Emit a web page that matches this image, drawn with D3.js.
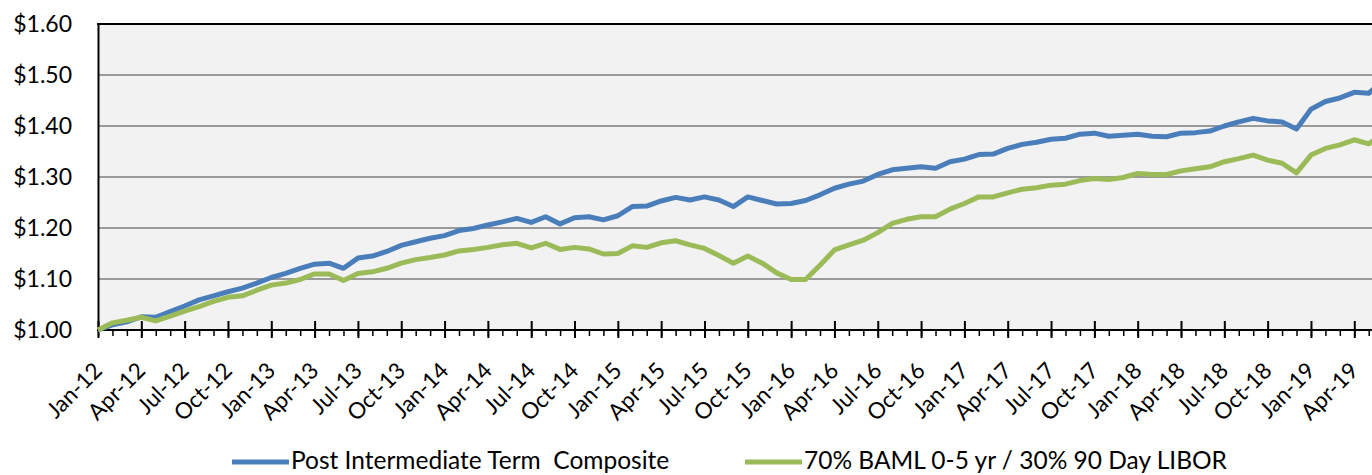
<!DOCTYPE html>
<html>
<head>
<meta charset="utf-8">
<script src="https://cdn.jsdelivr.net/npm/d3@7"></script>
<style>
  html, body { margin: 0; padding: 0; background: #fff; }
  svg { display: block; font-family: Lato, "Open Sans", sans-serif; }
</style>
</head>
<body>
<div id="chart"></div>
<script>
// ─── DATA ──────────────────────────────────────────────────────────────────────
// monthly growth of $1, Jan-12 .. Jun-19
const months = d3.timeMonth.range(new Date(2012, 0, 1), new Date(2019, 6, 1));

const tickLabels = [
  "Jan-12", "Apr-12", "Jul-12", "Oct-12", "Jan-13", "Apr-13", "Jul-13", "Oct-13",
  "Jan-14", "Apr-14", "Jul-14", "Oct-14", "Jan-15", "Apr-15", "Jul-15", "Oct-15",
  "Jan-16", "Apr-16", "Jul-16", "Oct-16", "Jan-17", "Apr-17", "Jul-17", "Oct-17",
  "Jan-18", "Apr-18", "Jul-18", "Oct-18", "Jan-19", "Apr-19"
];

const yTicks = [1.00, 1.10, 1.20, 1.30, 1.40, 1.50, 1.60];

const seriesNames = [
  "Post Intermediate Term  Composite",
  "70% BAML 0-5 yr / 30% 90 Day LIBOR"
];

const compositeValues = [
  1.000, 1.010, 1.016, 1.026, 1.025, 1.036, 1.047, 1.059, 1.067, 1.075, 1.082, 1.092,
  1.103, 1.111, 1.121, 1.129, 1.131, 1.121, 1.141, 1.145, 1.154, 1.166, 1.173, 1.180,
  1.185, 1.195, 1.199, 1.206, 1.212, 1.219, 1.211, 1.222, 1.208, 1.220, 1.222, 1.216,
  1.224, 1.242, 1.243, 1.253, 1.260, 1.255, 1.261, 1.255, 1.242, 1.261, 1.254, 1.247,
  1.248, 1.254, 1.265, 1.278, 1.286, 1.292, 1.305, 1.314, 1.317, 1.320, 1.317, 1.330,
  1.335, 1.344, 1.345, 1.356, 1.364, 1.368, 1.374, 1.376, 1.384, 1.386, 1.380, 1.382,
  1.384, 1.380, 1.379, 1.386, 1.387, 1.390, 1.400, 1.408, 1.415, 1.410, 1.408, 1.394,
  1.433, 1.448, 1.455, 1.466, 1.464, 1.490
];

const benchmarkValues = [
  1.000, 1.014, 1.019, 1.025, 1.018, 1.027, 1.037, 1.046, 1.056, 1.064, 1.067, 1.078,
  1.088, 1.092, 1.099, 1.110, 1.110, 1.097, 1.111, 1.114, 1.121, 1.131, 1.138, 1.142,
  1.147, 1.155, 1.158, 1.162, 1.167, 1.170, 1.161, 1.170, 1.158, 1.162, 1.159, 1.149,
  1.150, 1.165, 1.162, 1.171, 1.175, 1.167, 1.160, 1.146, 1.131, 1.145, 1.131, 1.112,
  1.099, 1.099, 1.127, 1.157, 1.167, 1.176, 1.191, 1.209, 1.217, 1.222, 1.222, 1.237,
  1.248, 1.261, 1.261, 1.269, 1.276, 1.279, 1.284, 1.286, 1.293, 1.297, 1.295, 1.299,
  1.307, 1.305, 1.305, 1.312, 1.316, 1.320, 1.330, 1.336, 1.343, 1.333, 1.327, 1.308,
  1.343, 1.356, 1.363, 1.373, 1.365, 1.385
];

const seriesColors = ["#4a7ebb", "#9bbb59"];

// ─── LAYOUT ────────────────────────────────────────────────────────────────────
const totalWidth = 1372;
const totalHeight = 475;
const plot = { left: 98, top: 24, bottom: 330, right: 1400 };
const monthStep = 14.44;

const svg = d3.select("#chart")
  .append("svg")
  .attr("width", totalWidth)
  .attr("height", totalHeight);

const fmtLabel = d3.timeFormat("%b-%y");

// x: one point per month, first month on the axis line
const xScale = d3.scalePoint()
  .domain(months.map(fmtLabel))
  .range([plot.left, plot.left + (months.length - 1) * monthStep]);

const yScale = d3.scaleLinear()
  .domain([1.0, 1.6])
  .range([plot.bottom, plot.top]);

// plot background
svg.append("rect")
  .attr("x", plot.left)
  .attr("y", plot.top)
  .attr("width", plot.right - plot.left)
  .attr("height", plot.bottom - plot.top)
  .attr("fill", "#f2f2f2");

// gridlines
svg.append("g")
  .selectAll("line")
  .data(yTicks.filter(d => d > 1.0 && d < 1.6))
  .join("line")
  .attr("x1", plot.left)
  .attr("x2", plot.right)
  .attr("y1", d => yScale(d))
  .attr("y2", d => yScale(d))
  .attr("stroke", "#9a9a9a")
  .attr("stroke-width", 2);

// top border
svg.append("line")
  .attr("x1", plot.left - 1)
  .attr("x2", plot.right)
  .attr("y1", plot.top)
  .attr("y2", plot.top)
  .attr("stroke", "#000")
  .attr("stroke-width", 2);

// y axis
const yAxis = svg.append("g")
  .attr("transform", `translate(${plot.left},0)`)
  .call(d3.axisLeft(yScale).tickValues(yTicks).tickSize(0).tickPadding(26)
    .tickFormat(d => "$" + d.toFixed(2)));
yAxis.select(".domain").attr("stroke", "#000").attr("stroke-width", 2);
yAxis.selectAll("text")
  .attr("fill", "#000")
  .style("font-family", "Lato, sans-serif")
  .style("font-size", "23px");

// x axis: minor ticks every month
const xMinor = svg.append("g")
  .attr("transform", `translate(0,${plot.bottom})`)
  .call(d3.axisBottom(xScale).tickSize(6).tickFormat(""));
xMinor.select(".domain").attr("stroke", "#000").attr("stroke-width", 2)
  .attr("d", `M${plot.left - 1},0H${plot.right}`);
xMinor.selectAll(".tick line").attr("stroke", "#000").attr("stroke-width", 1.5);

// x axis: major ticks every quarter, crossing the axis
const xMajor = svg.append("g")
  .attr("transform", `translate(0,${plot.bottom})`)
  .call(d3.axisBottom(xScale).tickValues(tickLabels).tickSize(8).tickPadding(0));
xMajor.select(".domain").remove();
xMajor.selectAll(".tick line")
  .attr("y1", -9)
  .attr("y2", 8)
  .attr("stroke", "#000")
  .attr("stroke-width", 2);
xMajor.selectAll(".tick text")
  .attr("fill", "#000")
  .attr("text-anchor", "end")
  .attr("y", 0)
  .attr("dy", 0)
  .attr("transform", "translate(5,42) rotate(-45)")
  .style("font-family", "Lato, sans-serif")
  .style("font-size", "22.5px");

// ─── LINES ─────────────────────────────────────────────────────────────────────
const line = d3.line()
  .x((d, i) => xScale(fmtLabel(months[i])))
  .y(d => yScale(d));

[compositeValues, benchmarkValues].forEach((values, k) => {
  svg.append("path")
    .datum(values)
    .attr("d", line)
    .attr("fill", "none")
    .attr("stroke", seriesColors[k])
    .attr("stroke-width", 5)
    .attr("stroke-linejoin", "round");
});

// ─── LEGEND ────────────────────────────────────────────────────────────────────
const legendItems = [
  { name: seriesNames[0], color: seriesColors[0], x: 232 },
  { name: seriesNames[1], color: seriesColors[1], x: 745 }
];
const legend = svg.append("g").selectAll("g")
  .data(legendItems)
  .join("g")
  .attr("transform", d => `translate(${d.x},462)`);
legend.append("line")
  .attr("x1", 0).attr("x2", 57)
  .attr("stroke", d => d.color)
  .attr("stroke-width", 5);
legend.append("text")
  .attr("x", 59)
  .attr("y", 7)
  .attr("xml:space", "preserve")
  .style("white-space", "pre")
  .style("font-family", "Lato, sans-serif")
  .style("font-size", "24.5px")
  .attr("fill", "#000")
  .text(d => d.name);
</script>
</body>
</html>
